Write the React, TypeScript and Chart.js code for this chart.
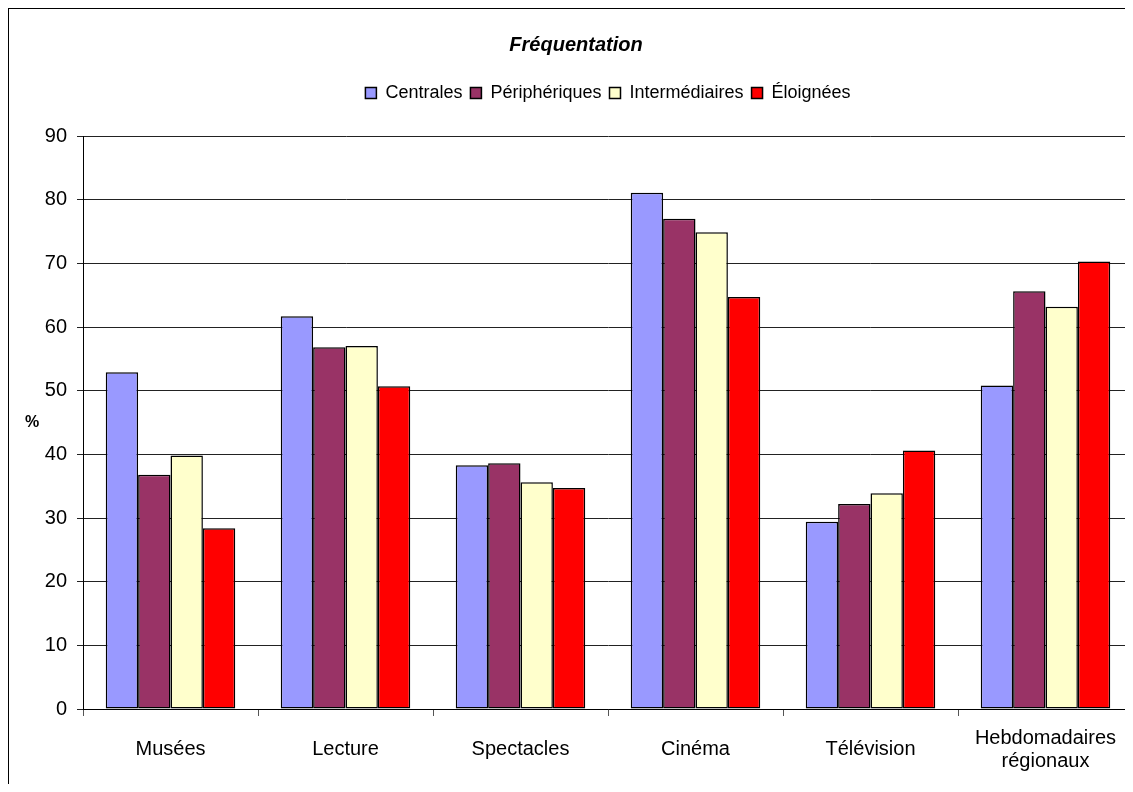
import React, { useEffect, useRef } from 'react'
import { Chart, registerables } from 'chart.js'

Chart.register(...registerables)

const categories = [
	'Musées',
	'Lecture',
	'Spectacles',
	'Cinéma',
	'Télévision',
	['Hebdomadaires', 'régionaux'],
]
const centrales = [52.9, 61.7, 38.3, 81.1, 29.4, 50.8]
const peripheriques = [36.8, 56.8, 38.6, 77.0, 32.2, 65.6]
const intermediaires = [39.8, 57.0, 35.6, 74.9, 33.9, 63.2]
const eloignees = [28.4, 50.7, 34.7, 64.7, 40.6, 70.3]
const seriesNames = ['Centrales', 'Périphériques', 'Intermédiaires', 'Éloignées']
const seriesColors = ['#9999FF', '#993366', '#FFFFCC', '#FF0000']

const FONT = '"Liberation Sans", Arial, sans-serif'

// draws the horizontal "%" label left of the y axis
const percentLabel = {
	id: 'percentLabel',
	afterDraw(chart: Chart) {
		const { ctx, chartArea } = chart
		ctx.save()
		ctx.font = `bold 16px ${FONT}`
		ctx.fillStyle = '#000'
		ctx.textAlign = 'center'
		ctx.textBaseline = 'middle'
		ctx.fillText('%', 23, (chartArea.top + chartArea.bottom) / 2)
		ctx.restore()
	},
}

// leaves some room between the legend and the plot
const legendGap = {
	id: 'legendGap',
	beforeLayout(chart: any) {
		const legend = chart.legend
		if (legend && !legend._gapPatched) {
			const fit = legend.fit.bind(legend)
			legend.fit = () => {
				fit()
				legend.height += 24
			}
			legend._gapPatched = true
		}
	},
}

const App: React.FC = () => {
	const chartRef = useRef<HTMLCanvasElement>(null)

	useEffect(() => {
		if (!chartRef.current) return
		const context = chartRef.current.getContext('2d')
		if (!context) return

		const values = [centrales, peripheriques, intermediaires, eloignees]

		const chart = new Chart(context, {
			type: 'bar',
			data: {
				labels: categories,
				datasets: values.map((data, i) => ({
					label: seriesNames[i],
					data,
					backgroundColor: seriesColors[i],
					borderColor: '#000',
					borderWidth: 1.5,
					borderSkipped: false,
					categoryPercentage: 0.74,
					barPercentage: 1,
				})),
			},
			plugins: [percentLabel, legendGap],
			options: {
				responsive: false,
				animation: false,
				devicePixelRatio: 1,
				layout: { padding: { left: 10, right: 0, top: 0, bottom: 0 } },
				font: { family: FONT },
				plugins: {
					tooltip: { enabled: false },
					title: {
						display: true,
						text: 'Fréquentation',
						color: '#000',
						font: { family: FONT, size: 20, style: 'italic', weight: 'bold' },
						padding: { top: 24, bottom: 19 },
					},
					legend: {
						display: true,
						position: 'top',
						fullSize: false,
						labels: {
							color: '#000',
							font: { family: FONT, size: 18 },
							boxWidth: 11,
							boxHeight: 11,
							padding: 8,
						},
					},
				},
				scales: {
					x: {
						grid: {
							offset: true,
							drawOnChartArea: false,
							drawTicks: true,
							tickLength: 7,
							color: '#555',
						},
						border: { display: true, color: '#000', width: 1 },
						ticks: {
							color: '#000',
							font: { family: FONT, size: 20, lineHeight: 1.15 },
							maxRotation: 0,
							autoSkip: false,
							padding: 22,
							crossAlign: 'center',
						},
						afterFit(scale: any) {
							scale.height = 75
							scale.paddingLeft = 0
							scale.paddingRight = 0
						},
					},
					y: {
						min: 0,
						max: 90,
						ticks: {
							stepSize: 10,
							color: '#000',
							font: { family: FONT, size: 20 },
							padding: 10,
						},
						grid: {
							color: '#222',
							lineWidth: 1,
							tickLength: 6,
						},
						border: { display: true, color: '#000', width: 1 },
						afterFit(scale: any) {
							scale.width = 64
						},
					},
				},
			},
		})

		return () => {
			chart.destroy()
		}
	}, [])

	return (
		<div
			style={{
				width: 1124,
				height: 775,
				borderLeft: '1px solid #000',
				borderTop: '1px solid #000',
				overflow: 'hidden',
			}}
		>
			<canvas
				ref={chartRef}
				width={1124}
				height={775}
				style={{ display: 'block', width: 1124, height: 775 }}
			/>
		</div>
	)
}

export default App
